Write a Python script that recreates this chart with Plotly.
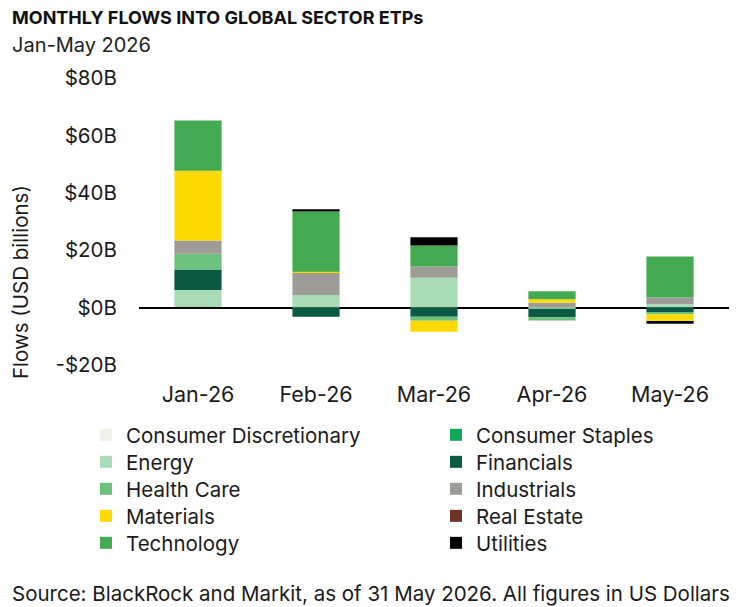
import plotly.graph_objects as go

months = ["Jan-26", "Feb-26", "Mar-26", "Apr-26", "May-26"]
sectors = ["Consumer Discretionary", "Consumer Staples", "Energy", "Financials",
           "Health Care", "Industrials", "Materials", "Real Estate", "Technology", "Utilities"]
colors = ["#f1f1ea", "#12a85c", "#a9dcb6", "#0b5b44", "#6cc17f",
          "#9d9c96", "#ffda00", "#6d3329", "#44aa52", "#000000"]

consumer_discretionary = [0, 0, 0, 0, 0]
consumer_staples = [0, 0, 0, 0, 0]
energy = [6.1, 4.4, 10.4, -0.4, 1.2]
financials = [7.2, -3.2, -3.2, -3.0, -1.5]
health_care = [5.5, 0, -1.4, -1.1, -0.8]
industrials = [4.6, 7.8, 3.9, 1.7, 2.3]
materials = [24.3, 0.3, -3.8, 1.2, -2.7]
real_estate = [0, 0, 0, 0, 0]
technology = [17.5, 21.0, 7.3, 2.8, 14.3]
utilities = [-0.5, 0.8, 2.9, 0, -0.6]

series = [consumer_discretionary, consumer_staples, energy, financials, health_care,
          industrials, materials, real_estate, technology, utilities]

ytick_vals = [-20, 0, 20, 40, 60, 80]
ytick_text = ["-$20B", "$0B", "$20B", "$40B", "$60B", "$80B"]

W, H = 742, 607
L, R, T, B = 139, 13, 78, 242
PW, PH = W - L - R, H - T - B

def px(x):
    return (x - L) / PW

def py(y):
    return (H - B - y) / PH

FONT = "Inter"
TXT = "#1a1a1a"
FS = 20.5
fig = go.Figure()
row_centers = [435, 462, 489, 516, 543]
col_lefts = [86, 436]
legends = {}
for i, (name, vals, col) in enumerate(zip(sectors, series, colors)):
    key = "legend" if i == 0 else f"legend{i + 1}"
    fig.add_trace(go.Bar(
        x=months, y=vals, name=name,
        marker=dict(color=col, line=dict(width=0)),
        legend=key,
    ))
    legends[key] = dict(x=px(col_lefts[i % 2]), y=py(row_centers[i // 2]),
                        xanchor="left", yanchor="middle",
                        orientation="v",
                        font=dict(family=FONT, size=FS, color=TXT),
                        itemwidth=30, bgcolor="rgba(0,0,0,0)")

fig.update_layout(
    width=W, height=H,
    margin=dict(l=L, r=R, t=T, b=B),
    barmode="relative", bargap=0.6,
    plot_bgcolor="white", paper_bgcolor="white",
    font=dict(family=FONT, size=FS, color=TXT),
    showlegend=True,
    xaxis=dict(showgrid=False, showline=False, ticks="outside", ticklen=10,
               tickcolor="rgba(0,0,0,0)", tickfont=dict(size=21.5)),
    yaxis=dict(range=[-20, 80], tickvals=ytick_vals, ticktext=ytick_text,
               showgrid=False, showline=False, zeroline=True,
               zerolinecolor="#000000", zerolinewidth=1.5,
               ticks="outside", ticklen=17, tickcolor="rgba(0,0,0,0)",
               tickfont=dict(size=FS)),
    **legends,
)

fig.add_annotation(text="<b>MONTHLY FLOWS INTO GLOBAL SECTOR ETPs</b>",
                   xref="paper", yref="paper", x=px(10), y=py(18),
                   xanchor="left", yanchor="middle", showarrow=False,
                   font=dict(family=FONT, size=18, color="#111111"))
fig.add_annotation(text="Jan-May 2026",
                   xref="paper", yref="paper", x=px(10), y=py(45),
                   xanchor="left", yanchor="middle", showarrow=False,
                   font=dict(family=FONT, size=20, color="#222222"))
fig.add_annotation(text="Flows (USD billions)", textangle=-90,
                   xref="paper", yref="paper", x=px(20), y=py(282),
                   xanchor="center", yanchor="middle", showarrow=False,
                   font=dict(family=FONT, size=FS, color=TXT))
fig.add_annotation(text="Source: BlackRock and Markit, as of 31 May 2026. All figures in US Dollars",
                   xref="paper", yref="paper", x=px(10), y=py(593),
                   xanchor="left", yanchor="middle", showarrow=False,
                   font=dict(family=FONT, size=20.5, color=TXT))

fig.write_html("out.html")
